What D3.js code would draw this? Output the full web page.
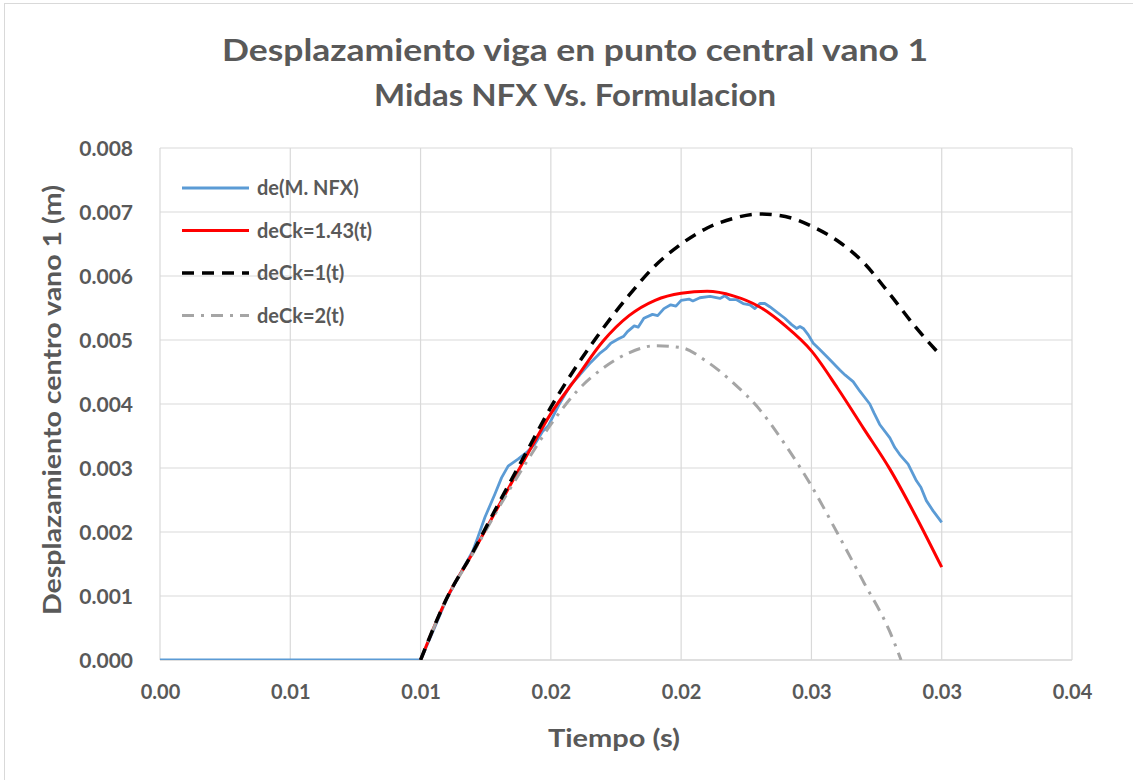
<!DOCTYPE html>
<html><head><meta charset="utf-8">
<script src="https://cdn.jsdelivr.net/npm/d3@7"></script>
<style>
body{margin:0;background:#fff;}
svg text{font-family:Lato,"Open Sans","Liberation Sans",sans-serif;font-weight:bold;fill:#595959;}
</style></head>
<body><svg id="c" width="1133" height="780"></svg>
<script>
// ---- data (time in s, displacement in m) ----
const titleLines = ["Desplazamiento viga en punto central vano 1", "Midas NFX Vs. Formulacion"];
const xTickValues = [0, 0.005, 0.01, 0.015, 0.02, 0.025, 0.03, 0.035];
const xTickLabels = ["0.00", "0.01", "0.01", "0.02", "0.02", "0.03", "0.03", "0.04"];
const yTickValues = [0, 0.001, 0.002, 0.003, 0.004, 0.005, 0.006, 0.007, 0.008];
const yTickLabels = ["0.000", "0.001", "0.002", "0.003", "0.004", "0.005", "0.006", "0.007", "0.008"];
const seriesNames = ["de(M. NFX)", "deCk=1.43(t)", "deCk=1(t)", "deCk=2(t)"];

const deNFX = [
 [0,0],[0.010,0],[0.0105,0.00047],[0.011,0.00095],[0.0115,0.00133],[0.012,0.0017],[0.0122,0.00192],
 [0.01247,0.00223],[0.01285,0.00259],[0.01311,0.00285],[0.01336,0.00303],[0.01374,0.00314],[0.01406,0.00324],
 [0.01438,0.00337],[0.0147,0.00358],[0.0149,0.00366],[0.0153,0.00398],[0.01576,0.0043],[0.0161,0.00445],
 [0.01653,0.00465],[0.0169,0.0048],[0.0171,0.00486],[0.0173,0.00495],[0.0176,0.00502],[0.0178,0.00506],
 [0.01794,0.00513],[0.0182,0.00522],[0.01835,0.0052],[0.01857,0.00534],[0.0189,0.0054],[0.0191,0.00538],
 [0.01934,0.00549],[0.0196,0.00555],[0.0198,0.00553],[0.02,0.00562],[0.0203,0.00564],[0.02045,0.00561],
 [0.02072,0.00566],[0.02111,0.00568],[0.02149,0.00565],[0.02168,0.00569],[0.02187,0.00563],[0.02213,0.00563],
 [0.02238,0.00557],[0.02264,0.00555],[0.02283,0.00549],[0.02302,0.00557],[0.02321,0.00557],[0.0234,0.00552],
 [0.02366,0.00544],[0.02398,0.00534],[0.02424,0.00524],[0.02443,0.00518],[0.02456,0.00521],[0.02469,0.00518],
 [0.02488,0.00508],[0.02507,0.00495],[0.02532,0.00485],[0.02571,0.00469],[0.02609,0.00453],[0.0263,0.00445],
 [0.0266,0.00435],[0.02686,0.0042],[0.02724,0.004],[0.0274,0.00386],[0.02762,0.00368],[0.02801,0.00347],
 [0.0282,0.00332],[0.02839,0.00321],[0.02871,0.00306],[0.02903,0.0028],[0.0292,0.0027],[0.02941,0.00249],
 [0.02967,0.00233],[0.03,0.00215]
];
const deCk143 = [
 [0.010,0],[0.011,0.00096],[0.012,0.00167],[0.013,0.00241],[0.014,0.00314],[0.015,0.00385],[0.016,0.00442],
 [0.017,0.00498],[0.018,0.00538],[0.019,0.00562],[0.020,0.00573],[0.021,0.00576],[0.022,0.00569],[0.023,0.00552],
 [0.024,0.00522],[0.025,0.00483],[0.026,0.00425],[0.027,0.00362],[0.028,0.00299],[0.029,0.00225],[0.030,0.00145]
];
const deCk1 = [
 [0.010,0],[0.011,0.00096],[0.012,0.00168],[0.013,0.00245],[0.014,0.0032],[0.015,0.00395],[0.016,0.0046],
 [0.017,0.00518],[0.018,0.0057],[0.019,0.00616],[0.020,0.0065],[0.021,0.00675],[0.022,0.0069],[0.023,0.00697],
 [0.024,0.00693],[0.025,0.00678],[0.026,0.00655],[0.027,0.00621],[0.028,0.00572],[0.029,0.0052],[0.030,0.00474]
];
const deCk2 = [
 [0.010,0],[0.011,0.00095],[0.012,0.00166],[0.013,0.00238],[0.014,0.00305],[0.015,0.00368],[0.016,0.0042],
 [0.017,0.00456],[0.018,0.0048],[0.019,0.00491],[0.020,0.00488],[0.021,0.00466],[0.022,0.00433],[0.023,0.00392],
 [0.024,0.00336],[0.025,0.00272],[0.026,0.00198],[0.027,0.00122],[0.028,0.00045],[0.02844,0]
];

// ---- chart ----
const svg = d3.select("#c");
const L = 160, R = 1072, T = 148, B = 660;
const x = d3.scaleLinear().domain([0, 0.035]).range([L, R]);
const y = d3.scaleLinear().domain([0, 0.008]).range([B, T]);

// outer border
svg.append("rect").attr("x",4.5).attr("y",3.5).attr("width",1150).attr("height",800)
  .attr("fill","none").attr("stroke","#d9d9d9").attr("stroke-width",1);

// title
svg.selectAll("text.title").data(titleLines).join("text").attr("class","title")
  .attr("x",575).attr("y",(d,i)=>61+i*45).attr("text-anchor","middle")
  .style("font-size","31px")
  .attr("textLength",(d,i)=>i===0?706:402).attr("lengthAdjust","spacingAndGlyphs")
  .text(d=>d);

// grid
svg.append("g").selectAll("line").data(yTickValues).join("line")
  .attr("x1",L).attr("x2",R).attr("y1",d=>y(d)).attr("y2",d=>y(d))
  .attr("stroke",(d)=>d===0?"#bfbfbf":"#d9d9d9").attr("stroke-width",1.2);
svg.append("g").selectAll("line").data(xTickValues).join("line")
  .attr("y1",T).attr("y2",B).attr("x1",d=>x(d)).attr("x2",d=>x(d))
  .attr("stroke","#d9d9d9").attr("stroke-width",1.2);

// axes labels via d3 axes
const xAxis = d3.axisBottom(x).tickValues(xTickValues).tickFormat((d,i)=>xTickLabels[i]).tickSize(0).tickPadding(0);
const gx = svg.append("g").attr("transform",`translate(0,${B})`).call(xAxis);
gx.select(".domain").remove();
gx.selectAll("text").attr("dy",0).attr("y",39).style("font-size","20px").style("font-family",null).attr("fill",null);

const yAxis = d3.axisLeft(y).tickValues(yTickValues).tickFormat((d,i)=>yTickLabels[i]).tickSize(0).tickPadding(0);
const gy = svg.append("g").attr("transform",`translate(${L},0)`).call(yAxis);
gy.select(".domain").remove();
gy.selectAll("text").attr("x",-27).attr("dy","0.35em").style("font-size","21px").style("font-family",null).attr("fill",null);

// axis titles
svg.append("text").attr("x",614).attr("y",747).attr("text-anchor","middle")
  .style("font-size","25px").attr("textLength",132).attr("lengthAdjust","spacingAndGlyphs").text("Tiempo (s)");
svg.append("text").attr("transform","translate(61,400) rotate(-90)").attr("text-anchor","middle")
  .style("font-size","24px").attr("textLength",430).attr("lengthAdjust","spacingAndGlyphs")
  .text("Desplazamiento centro vano 1 (m)");

// lines
svg.append("clipPath").attr("id","pc").append("rect")
  .attr("x",L).attr("y",T-10).attr("width",R-L).attr("height",B-T+10);
const lineSmooth = d3.line().x(d=>x(d[0])).y(d=>y(d[1])).curve(d3.curveMonotoneX);
const lineRaw = d3.line().x(d=>x(d[0])).y(d=>y(d[1])).curve(d3.curveLinear);

const styles = [
  {data: deNFX, color:"#5b9bd5", w:2.8, dash:null, gen: lineRaw},
  {data: deCk143, color:"#ff0000", w:3, dash:null, gen: lineSmooth},
  {data: deCk2, color:"#a5a5a5", w:3, dash:"12,7,3,7", gen: lineSmooth},
  {data: deCk1, color:"#000000", w:3.5, dash:"12,8", gen: lineSmooth}
];
const gl = svg.append("g").attr("clip-path","url(#pc)");
styles.forEach(s=>{
  gl.append("path").attr("d", s.gen(s.data)).attr("fill","none")
    .attr("stroke", s.color).attr("stroke-width", s.w)
    .attr("stroke-dasharray", s.dash).attr("stroke-linejoin","round");
});

// legend
const legStyles = [
  {color:"#5b9bd5", w:3, dash:null},
  {color:"#ff0000", w:3, dash:null},
  {color:"#000000", w:3.5, dash:"12,8"},
  {color:"#a5a5a5", w:3, dash:"12,7,3,7"}
];
const lg = svg.append("g");
seriesNames.forEach((n,i)=>{
  const yy = 188 + i*42.5;
  lg.append("line").attr("x1",182).attr("x2",249).attr("y1",yy).attr("y2",yy)
    .attr("stroke",legStyles[i].color).attr("stroke-width",legStyles[i].w)
    .attr("stroke-dasharray",legStyles[i].dash);
  lg.append("text").attr("x",257).attr("y",yy).attr("dy","0.36em").style("font-size","20px").text(n);
});
</script>
</body></html>
